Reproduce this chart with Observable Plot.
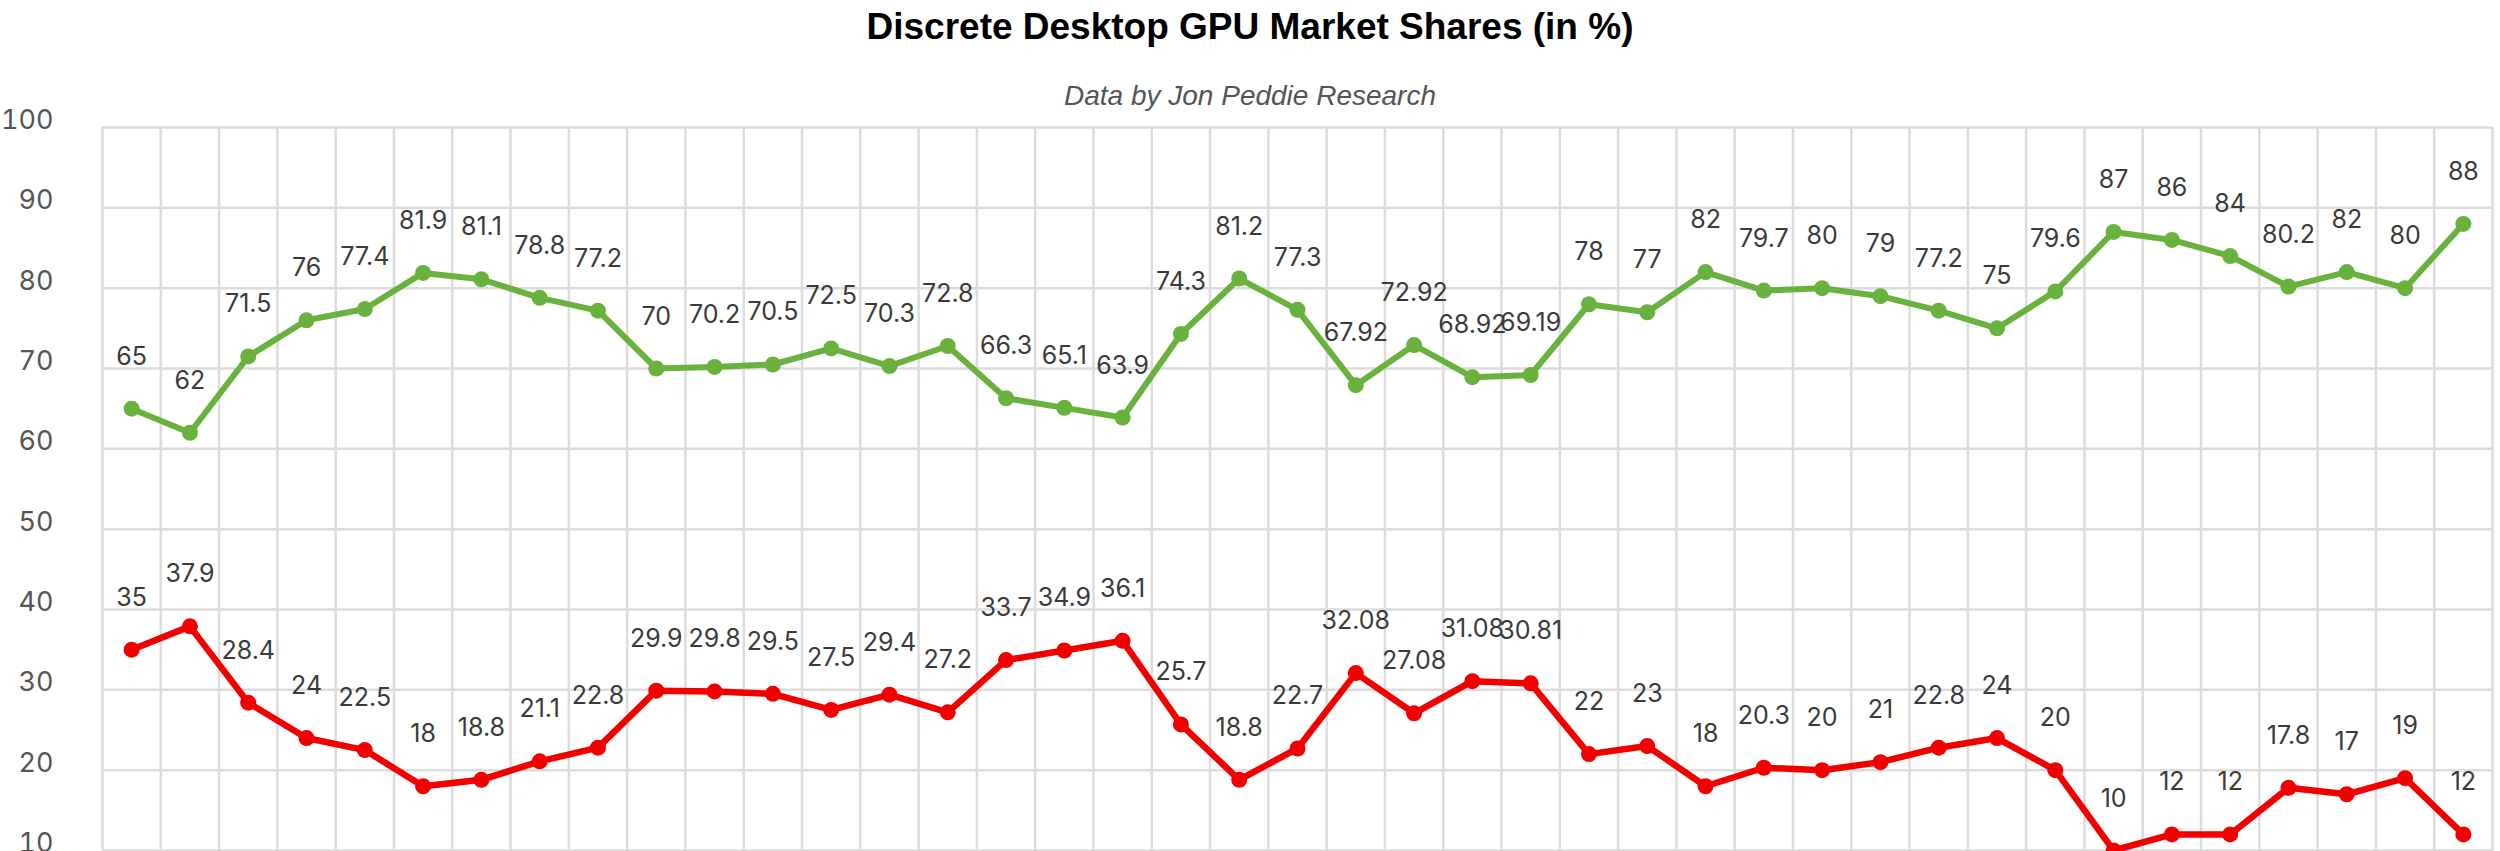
<!DOCTYPE html>
<html>
<head>
<meta charset="utf-8">
<script src="https://cdn.jsdelivr.net/npm/d3@7"></script>
<script src="https://cdn.jsdelivr.net/npm/@observablehq/plot@0.6"></script>
<style>
  html, body { margin: 0; padding: 0; background: #fff; overflow: hidden; }
  #hdr { position: relative; width: 2500px; height: 112px; }
  #title { position: absolute; left: 0; width: 2500px; top: 27px; transform: translateY(-50%);
    text-align: center; font: bold 37px "Liberation Sans", Arial, sans-serif; color: #000; }
  #sub { position: absolute; left: 0; width: 2500px; top: 96px; transform: translateY(-50%);
    text-align: center; font: italic 28px "Liberation Sans", Arial, sans-serif; color: #555; }
</style>
</head>
<body>
<div id="hdr">
  <div id="title">Discrete Desktop GPU Market Shares (in %)</div>
  <div id="sub">Data by Jon Peddie Research</div>
</div>
<div id="chart"></div>
<script>
// Quarters Q1 2014 .. Q1 2024
const quarters = [
  "Q1 2014","Q2 2014","Q3 2014","Q4 2014",
  "Q1 2015","Q2 2015","Q3 2015","Q4 2015",
  "Q1 2016","Q2 2016","Q3 2016","Q4 2016",
  "Q1 2017","Q2 2017","Q3 2017","Q4 2017",
  "Q1 2018","Q2 2018","Q3 2018","Q4 2018",
  "Q1 2019","Q2 2019","Q3 2019","Q4 2019",
  "Q1 2020","Q2 2020","Q3 2020","Q4 2020",
  "Q1 2021","Q2 2021","Q3 2021","Q4 2021",
  "Q1 2022","Q2 2022","Q3 2022","Q4 2022",
  "Q1 2023","Q2 2023","Q3 2023","Q4 2023",
  "Q1 2024"
];
const nvidia = [65, 62, 71.5, 76, 77.4, 81.9, 81.1, 78.8, 77.2, 70, 70.2, 70.5, 72.5, 70.3, 72.8, 66.3, 65.1, 63.9, 74.3, 81.2, 77.3, 67.92, 72.92, 68.92, 69.19, 78, 77, 82, 79.7, 80, 79, 77.2, 75, 79.6, 87, 86, 84, 80.2, 82, 80, 88];
const amd = [35, 37.9, 28.4, 24, 22.5, 18, 18.8, 21.1, 22.8, 29.9, 29.8, 29.5, 27.5, 29.4, 27.2, 33.7, 34.9, 36.1, 25.7, 18.8, 22.7, 32.08, 27.08, 31.08, 30.81, 22, 23, 18, 20.3, 20, 21, 22.8, 24, 20, 10, 12, 12, 17.8, 17, 19, 12];
const yTicks = [10, 20, 30, 40, 50, 60, 70, 80, 90, 100];

const GREEN = "#69b23e";
const RED = "#f20000";

const rows = (vals, name) => vals.map((v, i) => ({i, q: quarters[i], v, name}));
const dataN = rows(nvidia, "NVIDIA");
const dataA = rows(amd, "AMD");
const bounds = d3.range(quarters.length + 1).map(k => k - 0.5);

const chart = Plot.plot({
  width: 2500,
  height: 739,
  marginTop: 15,
  marginBottom: 1,
  marginLeft: 102,
  marginRight: 8,
  style: {background: "transparent", overflow: "visible"},
  x: {domain: [-0.5, quarters.length - 0.5], axis: null},
  y: {domain: [10, 100], axis: null},
  marks: [
    Plot.ruleY(yTicks, {stroke: "#dcdcdc", strokeWidth: 2.5}),
    Plot.ruleX(bounds, {stroke: "#dcdcdc", strokeWidth: 2.5}),
    Plot.axisY(yTicks, {
      tickSize: 0, tickPadding: 49, dy: -7,
      fontSize: 27, fill: "#555", fontFamily: "Inter, 'Liberation Sans', sans-serif",
      label: null
    }),
    Plot.line(dataN, {x: "i", y: "v", stroke: GREEN, strokeWidth: 6}),
    Plot.dot(dataN, {x: "i", y: "v", fill: GREEN, r: 8}),
    Plot.line(dataA, {x: "i", y: "v", stroke: RED, strokeWidth: 6.5}),
    Plot.dot(dataA, {x: "i", y: "v", fill: RED, r: 8}),
    Plot.text(dataN, {x: "i", y: "v", text: d => String(d.v), dy: -52,
      fontSize: 25, fill: "#3a3a3a", fontFamily: "Inter, 'Liberation Sans', sans-serif"}),
    Plot.text(dataA, {x: "i", y: "v", text: d => String(d.v), dy: -52,
      fontSize: 25, fill: "#3a3a3a", fontFamily: "Inter, 'Liberation Sans', sans-serif"})
  ]
});
document.getElementById("chart").appendChild(chart);
</script>
</body>
</html>
